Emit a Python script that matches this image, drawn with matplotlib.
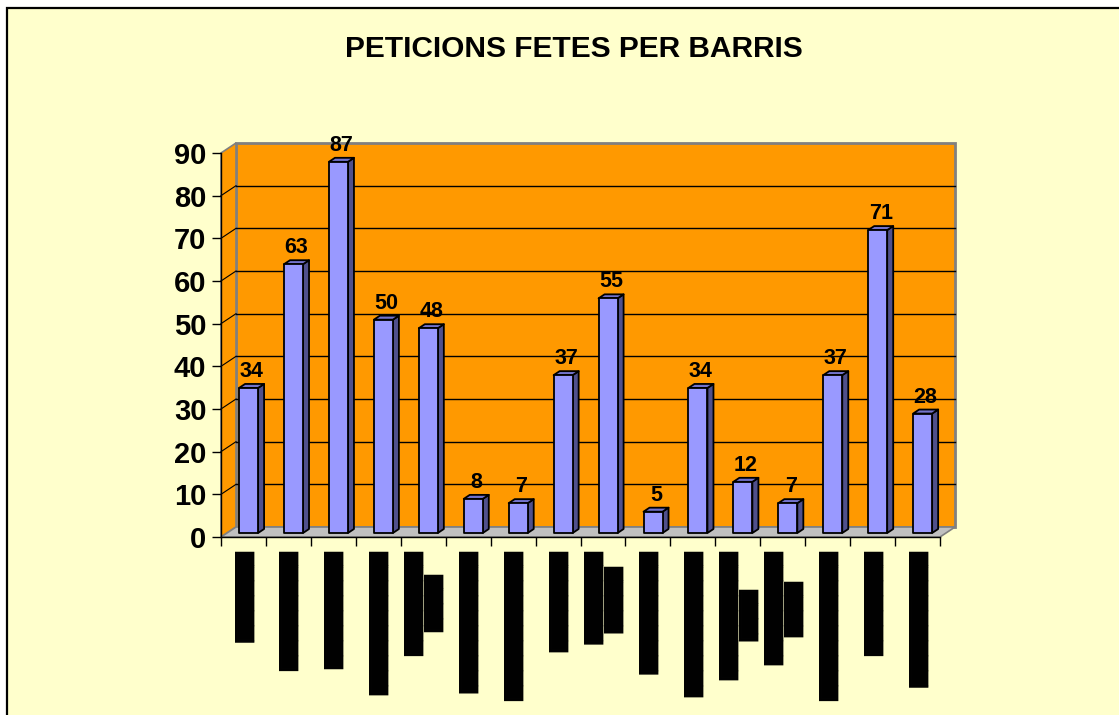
import matplotlib
matplotlib.use("Agg")
import matplotlib.pyplot as plt
from matplotlib.patches import Polygon, Rectangle

# Peticions per barri
valors = [34, 63, 87, 50, 48, 8, 7, 37, 55, 5, 34, 12, 7, 37, 71, 28]

# Category names are blacked out in the source, so keep them as block text.
# Length of each label line, in block characters (first line, second line)
barris_mida = [(6.125,), (8,), (7.875,), (9.625,), (7, 3.875), (9.5,), (10,),
               (6.75,), (6.25, 4.5), (8.25,), (9.75,), (8.625, 3.5),
               (7.625, 3.75), (10,), (7,), (9.125,)]

titol = "PETICIONS FETES PER BARRIS"
y_ticks = list(range(0, 100, 10))

# left partial blocks: 1/8 .. 7/8
parts = ["", "\u258f", "\u258e", "\u258d", "\u258c", "\u258b", "\u258a", "\u2589"]


def block_text(n):
    full = int(n)
    return "\u2588" * full + parts[int(round((n - full) * 8))]


# rotated 270 deg: line 2 ends up left of line 1, so put the short line first
barris = ["\n".join(block_text(n) for n in reversed(m)) for m in barris_mida]

W, H = 1119, 715
fig = plt.figure(figsize=(W / 100, H / 100), dpi=100, facecolor="white")

# light yellow chart area with a black border
fig.patches.append(Rectangle((6.5 / W, -0.1), 1.2, 1 - 7.5 / H + 0.1,
                             transform=fig.transFigure, facecolor="#FFFFCC",
                             edgecolor="black", lw=1.6, zorder=-5))

fig.text(574 / W, 1 - 49 / H, titol, ha="center", va="center",
         fontsize=21.5, fontweight="bold", family="Liberation Sans")

ax = fig.add_axes([221 / W, (H - 537) / H, 719 / W, 384 / H])
ax.patch.set_visible(False)
n = len(valors)
ymax = 90
ax.set_xlim(0, n)
ax.set_ylim(0, ymax)

# depth of the 3d box in data units
DX, DY = 0.334, 2.34
wall = "#FF9900"
edge = "#808080"

# back wall
ax.add_patch(Polygon([(DX, DY), (n + DX, DY), (n + DX, ymax + DY), (DX, ymax + DY)],
                     closed=True, facecolor=wall, edgecolor=edge, lw=2,
                     clip_on=False, zorder=1))
# left side wall
ax.add_patch(Polygon([(0, 0), (DX, DY), (DX, ymax + DY), (0, ymax)],
                     closed=True, facecolor=wall, edgecolor=edge, lw=1.2,
                     clip_on=False, zorder=1))
# floor
ax.add_patch(Polygon([(0, 0), (n, 0), (n + DX, DY), (DX, DY)],
                     closed=True, facecolor="#C0C0C0", edgecolor=edge, lw=1.2,
                     clip_on=False, zorder=1))

# gridlines on the walls
for v in y_ticks[1:-1]:
    ax.plot([DX, n + DX], [v + DY, v + DY], color="black", lw=1, zorder=2,
            clip_on=False)
    ax.plot([0, DX], [v, v + DY], color="black", lw=0.8, zorder=2,
            clip_on=False)

# 3d bars
c, w = 0.48, 0.423
f0, f1 = 0.4, 0.8
ddx, ddy = (f1 - f0) * DX, (f1 - f0) * DY
for i, v in enumerate(valors):
    x0 = i + c - w / 2 + f0 * DX
    y0 = f0 * DY
    front = [(x0, y0), (x0 + w, y0), (x0 + w, y0 + v), (x0, y0 + v)]
    top = [(x0, y0 + v), (x0 + w, y0 + v), (x0 + w + ddx, y0 + v + ddy),
           (x0 + ddx, y0 + v + ddy)]
    side = [(x0 + w, y0), (x0 + w + ddx, y0 + ddy), (x0 + w + ddx, y0 + v + ddy),
            (x0 + w, y0 + v)]
    for pts, col in [(side, "#50508C"), (top, "#7373CC"), (front, "#9999FF")]:
        ax.add_patch(Polygon(pts, closed=True, facecolor=col, edgecolor="black",
                             lw=1.3, joinstyle="round", clip_on=False, zorder=3))
    ax.annotate(str(v), (x0 + w / 2 + ddx / 2, y0 + v + ddy),
                xytext=(0, 2), textcoords="offset pixels", ha="center",
                va="bottom", fontsize=15.5, fontweight="bold",
                family="Liberation Sans", zorder=5, annotation_clip=False)

for s in ["top", "right"]:
    ax.spines[s].set_visible(False)
for s in ["left", "bottom"]:
    ax.spines[s].set_color("black")
    ax.spines[s].set_linewidth(1)
    ax.spines[s].set_zorder(4)

ax.set_yticks(y_ticks)
ax.set_yticklabels([str(t) for t in y_ticks], fontsize=21,
                   fontweight="bold", family="Liberation Sans")
ax.tick_params(axis="y", direction="out", length=6.5, width=1, pad=4)

ax.set_xticks(range(n + 1))
ax.set_xticklabels([])
ax.tick_params(axis="x", which="major", direction="out", length=6.5, width=1)
ax.set_xticks([i + 0.5 for i in range(n)], minor=True)
ax.set_xticklabels(barris, minor=True, rotation=270, ha="center", va="top",
                   multialignment="center", fontsize=14, family="DejaVu Sans",
                   linespacing=1.0)
ax.tick_params(axis="x", which="minor", length=0, pad=9.5)

fig.savefig("out.png", dpi=100, facecolor="white")
